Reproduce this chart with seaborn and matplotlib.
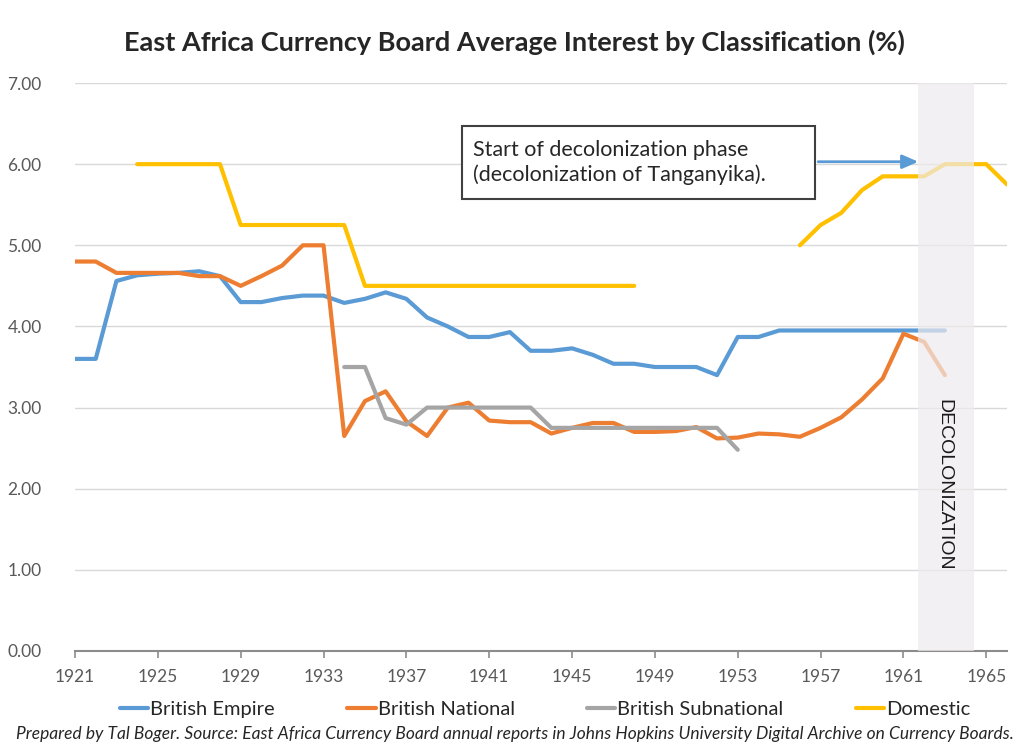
import numpy as np
import pandas as pd
import matplotlib.pyplot as plt
import seaborn as sns
from matplotlib.lines import Line2D
from matplotlib.patches import Rectangle

# Data (% average interest)
empire_years = list(range(1921, 1964))
empire = [3.60, 3.60, 4.56, 4.63, 4.65, 4.66, 4.68, 4.62, 4.30, 4.30,
          4.35, 4.38, 4.38, 4.29, 4.34, 4.42, 4.34, 4.11, 4.00, 3.87,
          3.87, 3.93, 3.70, 3.70, 3.73, 3.65, 3.54, 3.54, 3.50, 3.50,
          3.50, 3.40, 3.87, 3.87, 3.95, 3.95, 3.95, 3.95, 3.95, 3.95,
          3.95, 3.95, 3.95]

national_years = list(range(1921, 1964))
national = [4.80, 4.80, 4.66, 4.66, 4.66, 4.66, 4.62, 4.62, 4.50, 4.62,
            4.75, 5.00, 5.00, 2.65, 3.08, 3.20, 2.83, 2.65, 3.00, 3.06,
            2.84, 2.82, 2.82, 2.68, 2.75, 2.81, 2.81, 2.70, 2.70, 2.71,
            2.76, 2.62, 2.63, 2.68, 2.67, 2.64, 2.75, 2.88, 3.10, 3.36,
            3.91, 3.81, 3.40]

subnational_years = list(range(1934, 1954))
subnational = [3.50, 3.50, 2.87, 2.79, 3.00, 3.00, 3.00, 3.00, 3.00, 3.00,
               2.75, 2.75, 2.75, 2.75, 2.75, 2.75, 2.75, 2.75, 2.75, 2.48]

domestic_years_a = list(range(1924, 1949))
domestic_a = [6.00] * 5 + [5.25] * 6 + [4.50] * 14
domestic_years_b = list(range(1956, 1967))
domestic_b = [5.00, 5.25, 5.40, 5.68, 5.85, 5.85, 5.85, 6.00, 6.00, 6.00, 5.75]

names = ["British Empire", "British National", "British Subnational", "Domestic"]
colors = ["#5B9BD5", "#ED7D31", "#A5A5A5", "#FFC000"]

frames = [
    pd.DataFrame({"year": empire_years, "rate": empire, "series": names[0], "seg": "e"}),
    pd.DataFrame({"year": national_years, "rate": national, "series": names[1], "seg": "n"}),
    pd.DataFrame({"year": subnational_years, "rate": subnational, "series": names[2], "seg": "s"}),
    pd.DataFrame({"year": domestic_years_a, "rate": domestic_a, "series": names[3], "seg": "d1"}),
    pd.DataFrame({"year": domestic_years_b, "rate": domestic_b, "series": names[3], "seg": "d2"}),
]
df = pd.concat(frames, ignore_index=True)

sns.set_theme(style="white")
plt.rcParams["font.family"] = ["Lato", "DejaVu Sans"]

fig = plt.figure(figsize=(10.29, 7.48), dpi=100)
ax = fig.add_axes([0.0729, 0.1297, 0.9057, 0.7593])

sns.lineplot(data=df, x="year", y="rate", hue="series", units="seg",
             estimator=None, palette=dict(zip(names, colors)),
             hue_order=names, linewidth=3, legend=False, ax=ax, zorder=2)

# decolonization band
ax.axvspan(1961.7, 1964.4, color="#efebee", alpha=0.7, zorder=3, lw=0)
ax.text(1962.95, 2.05, "DECOLONIZATION", rotation=-90, ha="center", va="center",
        fontsize=14, color="#1a1a1a", family="Liberation Sans", zorder=4)

# annotation box + arrow
ax.add_patch(Rectangle((1939.7, 5.57), 17.05, 0.90, fc="white", ec="#404040",
                       lw=1.5, zorder=5))
ax.text(1940.2, 6.02, "Start of decolonization phase\n(decolonization of Tanganyika).",
        ha="left", va="center", fontsize=15.5, color="#262626", linespacing=1.25,
        zorder=6)
ax.annotate("", xy=(1961.85, 6.03), xytext=(1956.75, 6.03),
            arrowprops=dict(arrowstyle="-|>,head_length=0.8,head_width=0.35",
                            color="#5B9BD5", lw=2), zorder=6)

ax.set_xlim(1921, 1966)
ax.set_ylim(0, 7)
ax.set_xticks(range(1921, 1966, 4))
ax.set_yticks(np.arange(0, 7.01, 1))
ax.set_yticklabels([f"{v:.2f}" for v in np.arange(0, 7.01, 1)])
ax.yaxis.grid(True, color="#d9d9d9", lw=1)
ax.set_axisbelow(True)
ax.set_xlabel("")
ax.set_ylabel("")
for s in ["left", "right", "top"]:
    ax.spines[s].set_visible(False)
ax.spines["bottom"].set_color("#8c8c8c")
ax.spines["bottom"].set_linewidth(1.5)
ax.tick_params(axis="x", bottom=True, length=5, width=1.2, color="#8c8c8c",
               labelsize=12.5, labelcolor="#595959", pad=8)
ax.tick_params(axis="y", left=False, labelsize=12.5, labelcolor="#595959", pad=18)

fig.suptitle("East Africa Currency Board Average Interest by Classification (%)",
             x=0.5, y=0.944, va="center", fontsize=19.5, fontweight="bold",
             color="#262626")

handles = [Line2D([0], [0], color=c, lw=3) for c in colors]
fig.legend(handles, names, loc="center", bbox_to_anchor=(0.53, 0.051), ncol=4,
           frameon=False, fontsize=14.5, handlelength=1.4, handletextpad=0.1,
           columnspacing=3.6, labelcolor="#262626")

fig.text(0.5, 0.019, "Prepared by Tal Boger. Source: East Africa Currency Board annual "
         "reports in Johns Hopkins University Digital Archive on Currency Boards.",
         ha="center", va="center", fontsize=12.5, style="italic", color="#262626")

fig.savefig("out.png", dpi=100)
